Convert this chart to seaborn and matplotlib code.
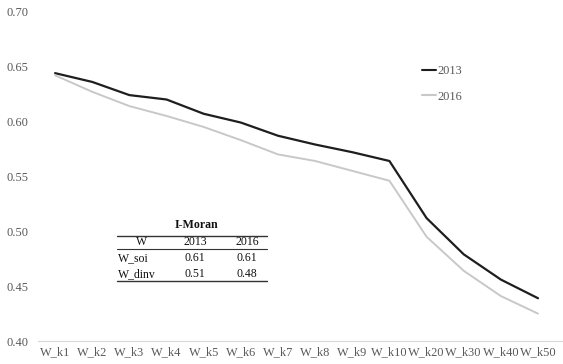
import pandas as pd
import matplotlib
matplotlib.use("Agg")
import matplotlib.pyplot as plt
import seaborn as sns

# data
categories = ["W_k1", "W_k2", "W_k3", "W_k4", "W_k5", "W_k6", "W_k7",
              "W_k8", "W_k9", "W_k10", "W_k20", "W_k30", "W_k40", "W_k50"]
moran_2013 = [0.644, 0.636, 0.624, 0.620, 0.607, 0.599, 0.587,
              0.579, 0.572, 0.564, 0.512, 0.479, 0.456, 0.439]
moran_2016 = [0.642, 0.627, 0.614, 0.605, 0.595, 0.583, 0.570,
              0.564, 0.555, 0.546, 0.495, 0.464, 0.441, 0.425]

table_cols = ["W", "2013", "2016"]
table_rows = [["W_soi", "0.61", "0.61"],
              ["W_dinv", "0.51", "0.48"]]

df = pd.DataFrame({
    "W": categories * 2,
    "moran": moran_2013 + moran_2016,
    "year": ["2013"] * len(categories) + ["2016"] * len(categories),
})

sns.set_style("white")
plt.rcParams["font.family"] = ["Liberation Serif", "DejaVu Serif"]

fig = plt.figure(figsize=(5.63, 3.64), dpi=100)
ax = fig.add_axes([0.0675, 0.063, 0.931, 0.905])

sns.lineplot(data=df, x="W", y="moran", hue="year", sort=False,
             palette={"2013": "#1e1e1e", "2016": "#c8c8c8"}, ax=ax)
for line, lw in zip(ax.lines, [1.6, 1.4]):
    line.set_linewidth(lw)

ax.set_ylim(0.40, 0.70)
ax.set_xlim(-0.46, len(categories) - 0.35)
ax.set_yticks([0.40, 0.45, 0.50, 0.55, 0.60, 0.65, 0.70])
ax.set_yticklabels([f"{v:.2f}" for v in ax.get_yticks()])
ax.set_xlabel("")
ax.set_ylabel("")
ax.tick_params(axis="both", length=0, labelsize=8.9, colors="#595959")
ax.tick_params(axis="y", pad=7)
ax.tick_params(axis="x", pad=4)
for side in ["top", "right", "left"]:
    ax.spines[side].set_visible(False)
ax.spines["bottom"].set_color("#d9d9d9")
ax.spines["bottom"].set_linewidth(0.8)

leg = ax.legend(frameon=False, loc="center left",
                bbox_to_anchor=(422 / 563, 1 - 84 / 364),
                bbox_transform=fig.transFigure, borderaxespad=0, borderpad=0,
                handlelength=1.15, handletextpad=0.1, labelspacing=1.1,
                fontsize=8.9)
for txt in leg.get_texts():
    txt.set_color("#595959")

# small table of I-Moran values
tx = [0.198, 0.300, 0.399]
x0, x1 = 0.151, 0.437
ax.text(0.303, 0.352, "I-Moran", transform=ax.transAxes, ha="center",
        va="center", fontsize=8.6, fontweight="bold", color="#111111")
ax.plot([x0, x1], [0.319, 0.319], transform=ax.transAxes,
        color="#333333", lw=1.0)
for x, c in zip(tx, table_cols):
    ax.text(x, 0.301, c, transform=ax.transAxes, ha="center", va="center",
            fontsize=8.5, color="#111111")
ax.plot([x0, x1], [0.279, 0.279], transform=ax.transAxes,
        color="#333333", lw=0.8)
for i, row in enumerate(table_rows):
    y = 0.252 - i * 0.049
    ax.text(0.153, y, row[0], transform=ax.transAxes, ha="left", va="center",
            fontsize=8.5, color="#111111")
    for x, v in zip(tx[1:], row[1:]):
        ax.text(x, y, v, transform=ax.transAxes, ha="center", va="center",
                fontsize=8.5, color="#111111")
ax.plot([x0, x1], [0.182, 0.182], transform=ax.transAxes,
        color="#333333", lw=1.0)

fig.savefig("out.png", dpi=100)
